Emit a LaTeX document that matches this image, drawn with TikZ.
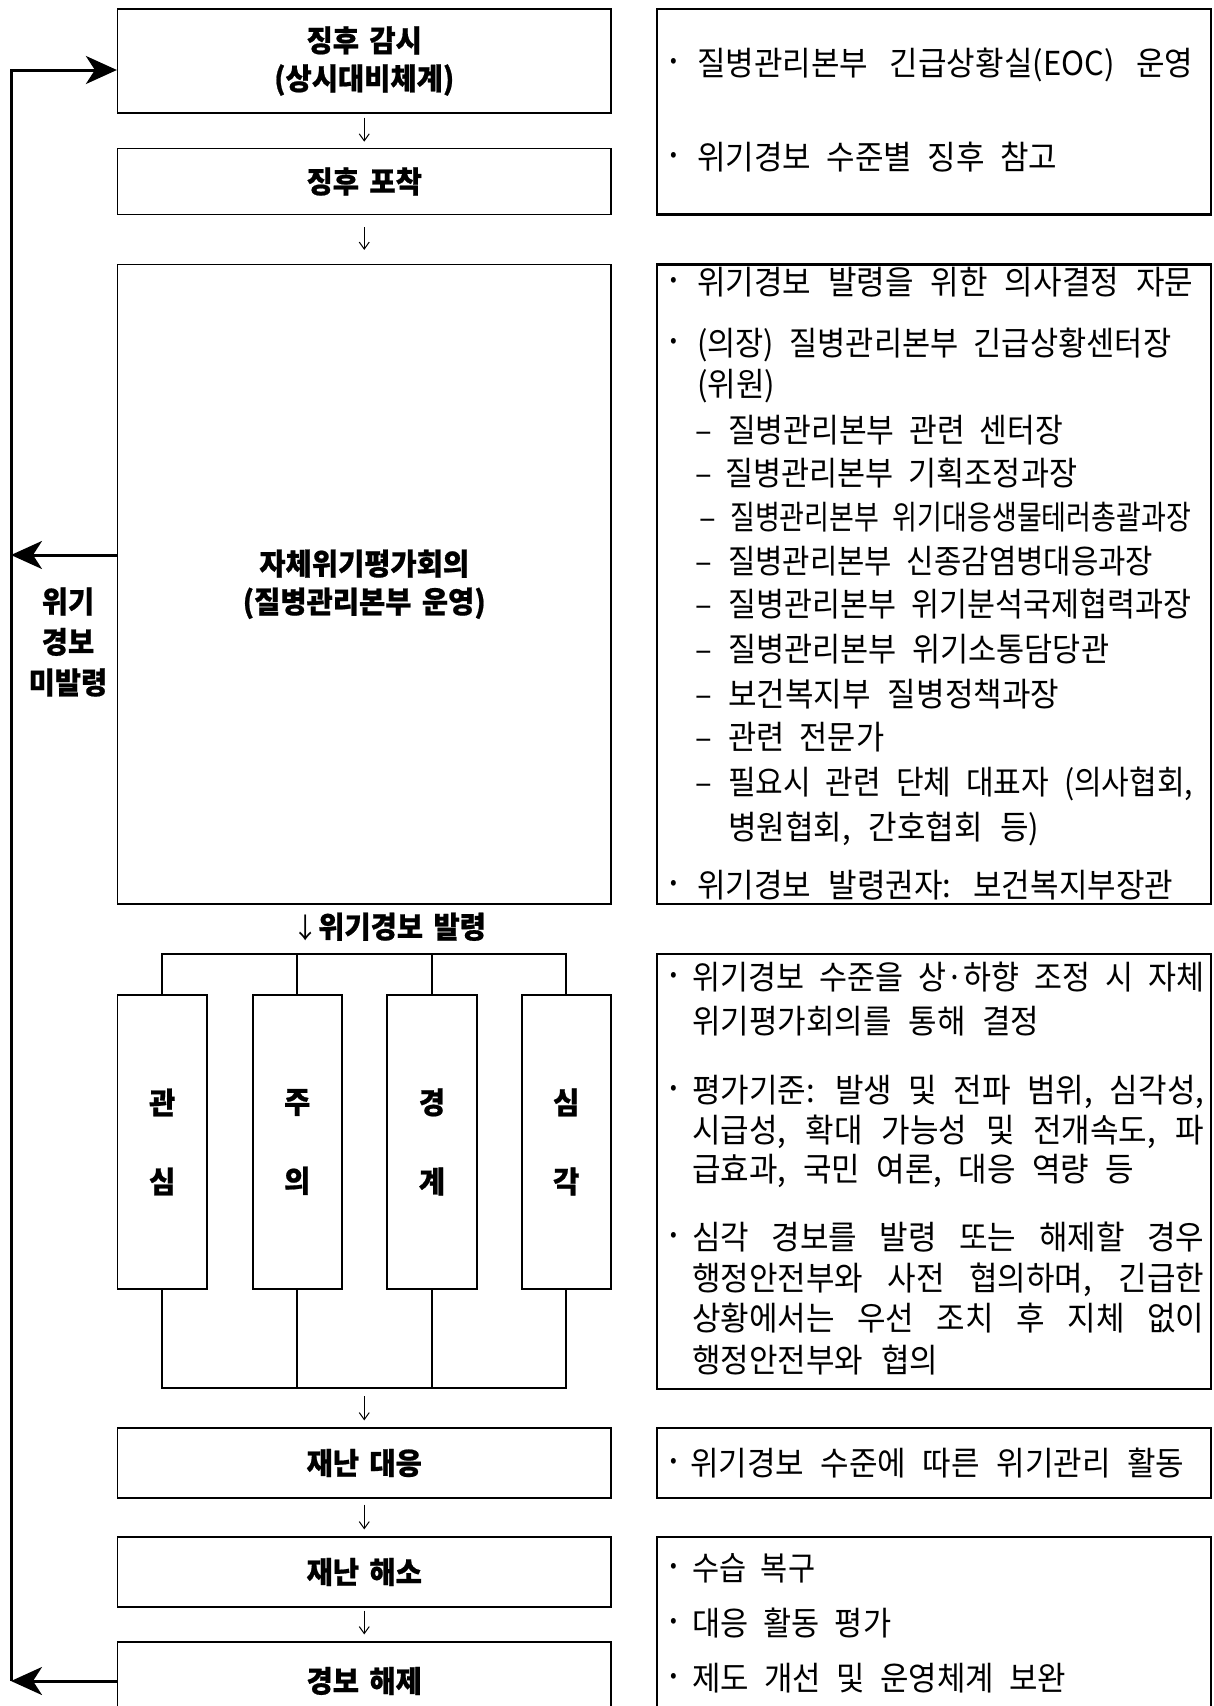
\documentclass[tikz,border=0pt]{standalone}
\usepackage{fontspec}
\usepackage{graphicx}
\usetikzlibrary{arrows.meta}
\newfontfamily\kr{Noto Sans CJK KR}[FakeStretch=0.94,WordSpace=2.2]
\newfontfamily\krh{Noto Sans CJK KR}[FakeStretch=0.95,WordSpace=1.6,BoldFeatures={FakeBold=0.7}]
\newsavebox\tmpbox
\newcommand\fl[2]{\sbox\tmpbox{#2}\ifdim\wd\tmpbox>#1pt\relax\resizebox{#1pt}{\height}{\usebox\tmpbox}\else\makebox[#1pt][s]{#2}\fi}
\newcommand\dsh[1]{\makebox[#1pt][l]{–}}
\tikzset{
  lbox/.style={draw, line width=1.2pt, minimum width=493.5pt, inner sep=0pt, align=center,
    font=\krh\bfseries\fontsize{30}{38}\selectfont},
  rbox/.style={draw, line width=2.4pt, minimum width=554pt, inner sep=0pt},
  lvbox/.style={draw, line width=2pt, minimum width=89.5pt, minimum height=294pt, inner sep=0pt,
    align=center, font=\krh\bfseries\fontsize{30}{79}\selectfont},
  txt/.style={anchor=base west, inner sep=0pt, font=\kr\fontsize{33}{36}\selectfont},
  bul/.style={inner sep=0pt, font=\kr\fontsize{21}{21}\selectfont},
  flow/.style={line width=1pt, -{Straight Barb[length=7pt,width=10pt]}},
  brk/.style={line width=2pt},
  bigarr/.style={line width=3pt, -{Stealth[length=31pt,width=28pt,inset=9pt]}},
}
\begin{document}
\begin{tikzpicture}[x=1pt,y=-1pt]
\useasboundingbox (0,0) rectangle (1214,1706);
\clip (0,0) rectangle (1214,1706);

% left column boxes
\node[lbox, minimum height=104pt] (b1) at (364.25,61) {징후 감시\\(상시대비체계)};
\node[lbox, minimum height=66.5pt] (b2) at (364.25,181.5) {징후 포착};
\node[lbox, minimum height=639.5pt] (b3) at (364.25,584.25) {자체위기평가회의\\(질병관리본부 운영)};
\node[lbox, minimum height=70pt] (b4) at (364.25,1463) {재난 대응};
\node[lbox, minimum height=70pt] (b5) at (364.25,1572) {재난 해소};
\node[lbox, minimum height=78pt] (b6) at (364.25,1681) {경보 해제};

% level boxes
\node[lvbox, line width=1.3pt] (lv1) at (162.25,1142) {관\\심};
\node[lvbox] (lv2) at (297.25,1142) {주\\의};
\node[lvbox] (lv3) at (432,1142) {경\\계};
\node[lvbox] (lv4) at (566.25,1142) {심\\각};

\coordinate (bt) at (0,954);
\coordinate (bb) at (0,1388);
\coordinate (bbc) at (364.25,1388);
\draw[brk] (lv1.north) -- (lv1.north |- bt) -- (lv4.north |- bt) -- (lv4.north);
\draw[brk] (lv2.north) -- (lv2.north |- bt);
\draw[brk] (lv3.north) -- (lv3.north |- bt);
\draw[brk] (lv1.south) -- (lv1.south |- bb) -- (lv4.south |- bb) -- (lv4.south);
\draw[brk] (lv2.south) -- (lv2.south |- bb);
\draw[brk] (lv3.south) -- (lv3.south |- bb);

\node[anchor=base west, inner sep=0pt] (issue) at (292,938)
  {{\kr\fontsize{28}{30}\selectfont\makebox[26pt]{↓}}{\krh\bfseries\fontsize{30}{30}\selectfont 위기경보 발령}};

% flow arrows
\draw[flow, shorten <=4pt, shorten >=6pt] (b1) -- (b2);
\draw[flow, shorten <=12pt, shorten >=14pt] (b2) -- (b3);
\draw[flow, shorten <=8pt, shorten >=7pt] (bbc) -- (b4);
\draw[flow, shorten <=6pt, shorten >=7pt] (b4) -- (b5);
\draw[flow, shorten <=3pt, shorten >=7pt] (b5) -- (b6);

% feedback loop
\coordinate (lt) at (11,70);
\coordinate (lm) at (11,555);
\coordinate (lb) at (11,1681);
\draw[bigarr] (lb) -- (lt) -- (lt -| b1.west);
\draw[bigarr] (lm -| b3.west) -- (lm);
\draw[bigarr] (lb -| b6.west) -- (lb);
\node[inner sep=0pt, align=center, font=\krh\bfseries\fontsize{30}{40.5}\selectfont] (nolab) at (68,642) {위기\\경보\\미발령};

% right boxes
\node[rbox, minimum height=205.5pt] (r1) at (934,111.75) {};
\node[rbox, minimum height=639.5pt] (r2) at (934,584.25) {};
\node[rbox, minimum height=435pt] (r3) at (934,1171.5) {};
\node[rbox, minimum height=70pt] (r4) at (934,1463) {};
\node[rbox, minimum height=183pt] (r5) at (934,1628.5) {};

% R1
\node[bul] at (674,63) {•};
\node[txt] (r1a) at (697,75) {\fl{496}{질병관리본부 긴급상황실(EOC) 운영}};
\node[bul] at (674,157) {•};
\node[txt] (r1b) at (697,169) {\fl{360}{위기경보 수준별 징후 참고}};

% R2
\node[bul] at (674,282) {•};
\node[txt] (r2a) at (697,294) {\fl{496}{위기경보 발령을 위한 의사결정 자문}};
\node[bul] at (674,343) {•};
\node[txt] (r2b) at (697,355) {\fl{474}{(의장) 질병관리본부 긴급상황센터장}};
\node[txt] (r2c) at (697,396) {(위원)};
\node[txt] (r2d) at (695,442) {\dsh{33}\fl{335}{질병관리본부 관련 센터장}};
\node[txt] (r2e) at (695,485) {\dsh{30}\fl{352}{질병관리본부 기획조정과장}};
\node[txt] (r2f) at (699,529) {\dsh{31}\fl{461}{질병관리본부 위기대응생물테러총괄과장}};
\node[txt] (r2g) at (695,573) {\dsh{33}\fl{425}{질병관리본부 신종감염병대응과장}};
\node[txt] (r2h) at (695,616) {\dsh{33}\fl{463}{질병관리본부 위기분석국제협력과장}};
\node[txt] (r2i) at (695,661) {\dsh{33}\fl{381}{질병관리본부 위기소통담당관}};
\node[txt] (r2j) at (695,706) {\dsh{33}\fl{331}{보건복지부 질병정책과장}};
\node[txt] (r2k) at (695,749) {\dsh{33}\fl{156}{관련 전문가}};
\node[txt] (r2l) at (695,794) {\dsh{33}\fl{465}{필요시 관련 단체 대표자 (의사협회,}};
\node[txt] (r2m) at (728,839) {\fl{311}{병원협회, 간호협회 등)}};
\node[bul] at (674,885) {•};
\node[txt] (r2n) at (697,897) {\fl{476}{위기경보 발령권자: 보건복지부장관}};

% R3
\node[bul] at (674,977) {•};
\node[txt] (r3a) at (692,989) {\fl{512}{위기경보 수준을 상·하향 조정 시 자체}};
\node[txt] (r3b) at (692,1033) {\fl{347}{위기평가회의를 통해 결정}};
\node[bul] at (674,1090) {•};
\node[txt] (r3c) at (692,1102) {\fl{512}{평가기준: 발생 및 전파 범위, 심각성,}};
\node[txt] (r3d) at (692,1142) {\fl{512}{시급성, 확대 가능성 및 전개속도, 파}};
\node[txt] (r3e) at (692,1181) {\fl{442}{급효과, 국민 여론, 대응 역량 등}};
\node[bul] at (674,1237) {•};
\node[txt] (r3f) at (692,1249) {\fl{512}{심각 경보를 발령 또는 해제할 경우}};
\node[txt] (r3g) at (692,1290) {\fl{512}{행정안전부와 사전 협의하며, 긴급한}};
\node[txt] (r3h) at (692,1330) {\fl{512}{상황에서는 우선 조치 후 지체 없이}};
\node[txt] (r3i) at (692,1372) {\fl{246}{행정안전부와 협의}};

% R4
\node[bul] at (674,1463) {•};
\node[txt] (r4a) at (690,1475) {\fl{494}{위기경보 수준에 따른 위기관리 활동}};

% R5
\node[bul] at (674,1568) {•};
\node[txt] (r5a) at (692,1580) {\fl{123}{수습 복구}};
\node[bul] at (674,1623) {•};
\node[txt] (r5b) at (692,1635) {\fl{199}{대응 활동 평가}};
\node[bul] at (674,1678) {•};
\node[txt] (r5c) at (692,1690) {\fl{374}{제도 개선 및 운영체계 보완}};
\end{tikzpicture}
\end{document}
